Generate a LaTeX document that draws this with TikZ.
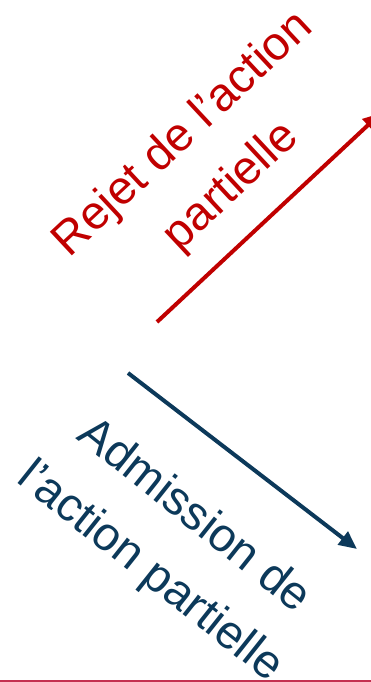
\documentclass[tikz,border=0pt]{standalone}
\usepackage{fontspec}
\setmainfont{Liberation Sans}
\usetikzlibrary{arrows.meta}
\definecolor{rejred}{RGB}{192,0,0}
\definecolor{admblue}{RGB}{12,57,90}
\definecolor{bottomred}{RGB}{196,48,80}
\tikzset{
  lbl/.style={inner sep=0pt, anchor=base, font=\fontsize{47}{56}\selectfont},
  rejlbl/.style={lbl, text=rejred, rotate=43},
  admlbl/.style={lbl, text=admblue, rotate=-38.5},
  conn/.style={line width=4pt, -{Triangle[width=16pt,length=18pt]}},
}
\begin{document}
\begin{tikzpicture}[x=1pt,y=1pt]
\useasboundingbox (0,0) rectangle (371,682);
\clip (0,0) rectangle (371,682);
\node[rejlbl] (rej1) at (192,538) {Rejet de l’action};
\node[rejlbl] (rej2) at (240,486) {partielle};
\node[admlbl] (adm1) at (186,156) {Admission de};
\node[admlbl] (adm2) at (142,100) {l’action partielle};
\coordinate (rs) at (157,360);
\coordinate (re) at (381,569);
\coordinate (bs) at (128,309);
\coordinate (be) at (357,133);
\draw[conn, rejred] (rs) -- (re);
\draw[conn, admblue] (bs) -- (be);
\coordinate (ll) at (0,0.8);
\coordinate (lr) at (371,0.8);
\draw[draw=bottomred, line width=1.6pt] (ll) -- (lr);
\end{tikzpicture}
\end{document}
